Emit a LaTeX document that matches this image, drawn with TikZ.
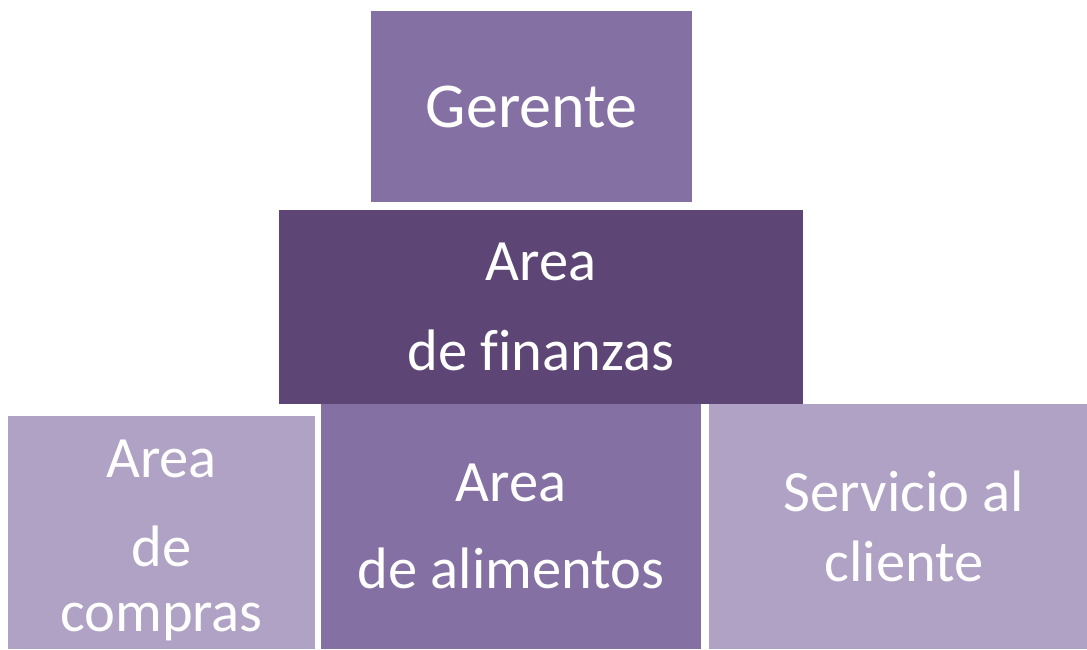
\documentclass[tikz,border=0pt]{standalone}
\usepackage{fontspec}
\setmainfont{Carlito}[Ligatures=NoCommon]
\usepackage{tikz}
\usetikzlibrary{positioning}

\definecolor{orgmid}{RGB}{132, 112, 162}
\definecolor{orgdark}{RGB}{93, 70, 117}
\definecolor{orglight}{RGB}{176, 162, 196}

\begin{document}
\begin{tikzpicture}[
  x=1pt, y=-1pt,
  orgbox/.style={inner sep=0pt, align=center, text=white, font=\fontsize{58.5}{72}\selectfont}
]
  \useasboundingbox (0,0) rectangle (1087,649);

  % top of the chart
  \node[orgbox, fill=orgmid, minimum width=321pt, minimum height=191pt, font=\fontsize{64}{76}\selectfont] (gerente) at (531.5,106.5) {Gerente};
  \node[orgbox, fill=orgdark, minimum width=524pt, minimum height=194pt] (finanzas) at (541,307) {Area\\[18pt]de finanzas};

  % bottom row
  \node[orgbox, fill=orglight, minimum width=307pt, minimum height=233pt] (compras) at (161.5,532.5) {\rule{0pt}{54pt}Area\\[17pt]de\\[-7pt]compras};
  \node[orgbox, fill=orgmid, minimum width=380pt, minimum height=245pt] (alimentos) at (511,526.5) {Area\\[15pt]de alimentos};
  \node[orgbox, fill=orglight, minimum width=378pt, minimum height=245pt] (servicio) at (898,526.5) {\hspace*{12pt}Servicio al\\[-2pt]\hspace*{12pt}cliente};
\end{tikzpicture}
\end{document}
